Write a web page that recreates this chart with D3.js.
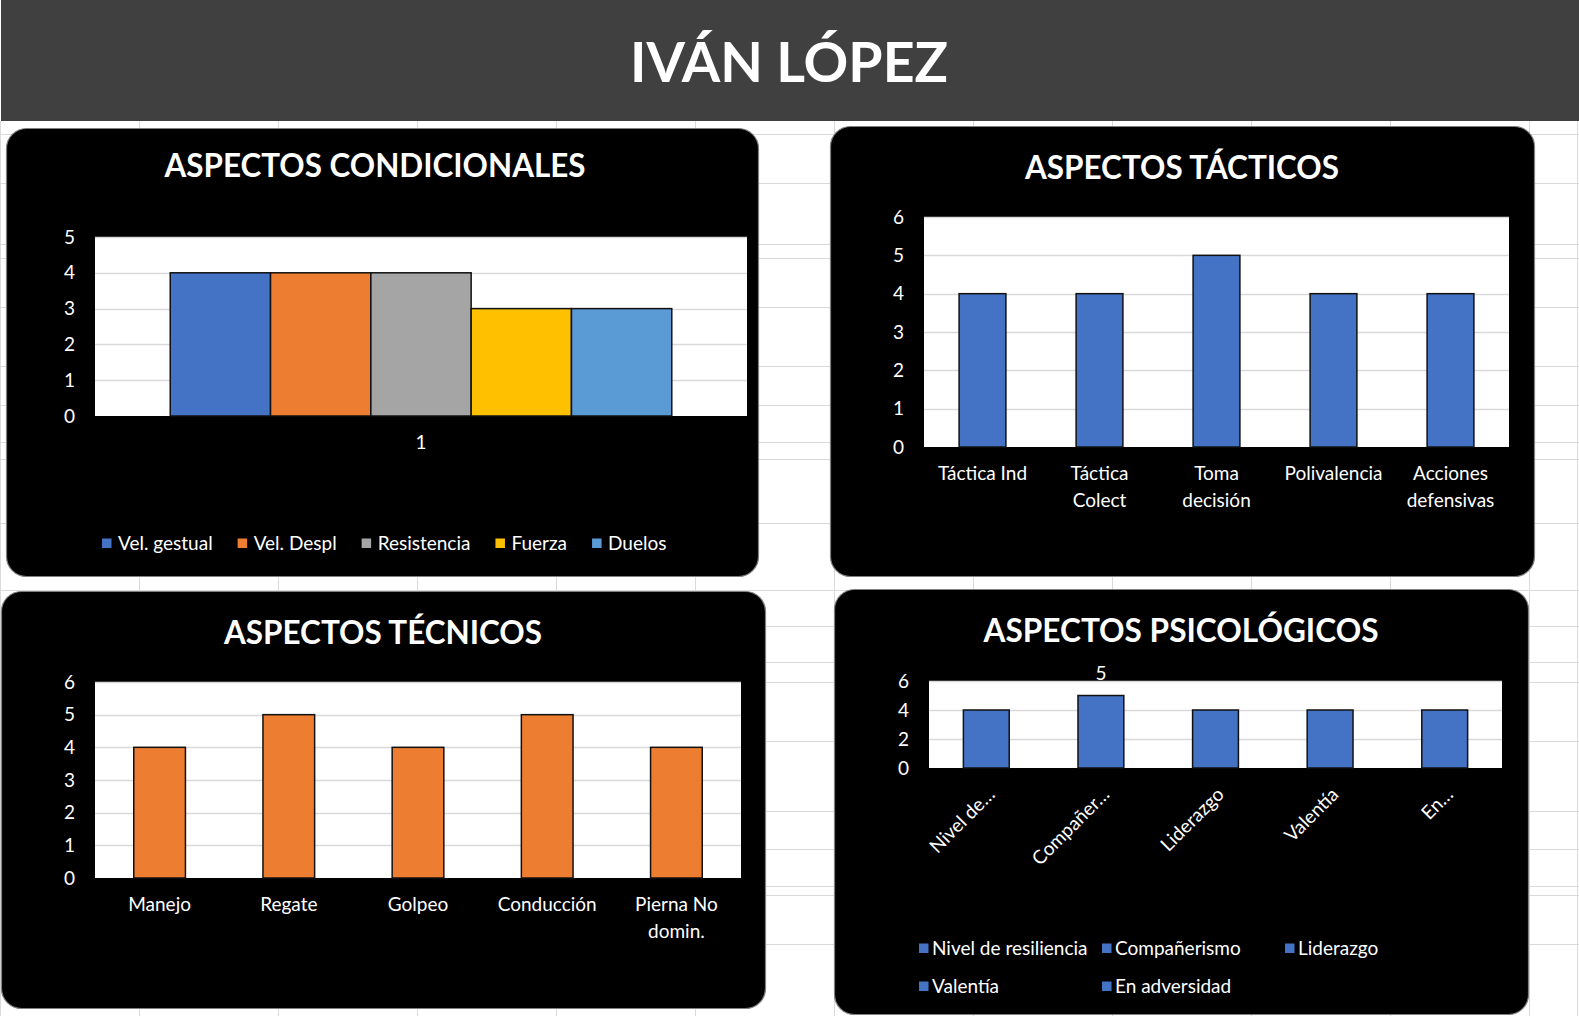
<!DOCTYPE html>
<html><head><meta charset="utf-8">
<script src="https://cdn.jsdelivr.net/npm/d3@7"></script>
<style>
html,body{margin:0;padding:0;background:#fff;overflow:hidden}
svg{display:block}
</style></head><body>
<svg id="c" width="1579" height="1016"></svg>
<script>
// ---------- DATA ----------
const playerName = "IVÁN LÓPEZ";

const condTitle = "ASPECTOS CONDICIONALES";
const condCategories = ["1"];
const condSeries = ["Vel. gestual", "Vel. Despl", "Resistencia", "Fuerza", "Duelos"];
const condValues = [4, 4, 4, 3, 3];
const condColors = ["#4472C4", "#ED7D31", "#A5A5A5", "#FFC000", "#5B9BD5"];
const condTicks = [0, 1, 2, 3, 4, 5];

const tactTitle = "ASPECTOS TÁCTICOS";
const tactCategories = ["Táctica Ind", "Táctica Colect", "Toma decisión", "Polivalencia", "Acciones defensivas"];
const tactValues = [4, 4, 5, 4, 4];
const tactTicks = [0, 1, 2, 3, 4, 5, 6];

const tecTitle = "ASPECTOS TÉCNICOS";
const tecCategories = ["Manejo", "Regate", "Golpeo", "Conducción", "Pierna No domin."];
const tecValues = [4, 5, 4, 5, 4];
const tecTicks = [0, 1, 2, 3, 4, 5, 6];

const psiTitle = "ASPECTOS PSICOLÓGICOS";
const psiCategories = ["Nivel de resiliencia", "Compañerismo", "Liderazgo", "Valentía", "En adversidad"];
const psiTickLabels = ["Nivel de…", "Compañer…", "Liderazgo", "Valentía", "En…"];
const psiValues = [4, 5, 4, 4, 4];
const psiTicks = [0, 2, 4, 6];
const psiLabelled = ["Compañerismo"];

// ---------- STYLE / LAYOUT ----------
const FONT = "Lato, 'Open Sans', sans-serif";
const LBL = 19;
const BLUE = "#4472C4", ORANGE = "#ED7D31";
const BAR_STROKE = "#111";
const sheetCols = [0.5, 139.5, 278.5, 417.5, 556.5, 695.5, 834.5, 973.5, 1112.5, 1251.5, 1390.5, 1529.5, 1577.5];
const sheetRows = [134.5, 183.5, 244.5, 258.5, 307.5, 366.5, 405.5, 442.5, 459.5, 523.5, 590.5, 626.5, 662.5, 682.5, 741.5, 811.5, 849.5, 886.5, 895.5, 944.5];

const svg = d3.select("#c");

// sheet background
svg.append("rect").attr("width", 1579).attr("height", 1016).attr("fill", "#fff");
const sg = svg.append("g").attr("stroke", "#dadada").attr("stroke-width", 1);
sg.selectAll("line.v").data(sheetCols).join("line").attr("class", "v")
  .attr("x1", d => d).attr("x2", d => d).attr("y1", 121).attr("y2", 1016);
sg.selectAll("line.h").data(sheetRows).join("line").attr("class", "h")
  .attr("x1", 0).attr("x2", 1579).attr("y1", d => d).attr("y2", d => d);

// header
svg.append("rect").attr("x", 1).attr("y", 0).attr("width", 1578).attr("height", 121).attr("fill", "#404040");
svg.append("text").attr("x", 789).attr("y", 82).attr("text-anchor", "middle")
  .attr("font-family", FONT).attr("font-weight", 700).attr("font-size", 56)
  .attr("textLength", 318).attr("lengthAdjust", "spacingAndGlyphs")
  .attr("fill", "#fff").text(playerName);

function panel(p, title) {
  const g = svg.append("g");
  g.append("rect").attr("x", p.x + 0.5).attr("y", p.y + 0.5).attr("width", p.w).attr("height", p.h)
    .attr("rx", 20).attr("ry", 20).attr("fill", "#000").attr("stroke", "#808080").attr("stroke-width", 1.2);
  g.append("text").attr("x", p.title.cx).attr("y", p.title.base).attr("text-anchor", "middle")
    .attr("font-family", FONT).attr("font-weight", 700).attr("font-size", p.title.size)
    .attr("textLength", p.title.len).attr("lengthAdjust", "spacingAndGlyphs")
    .attr("fill", "#fff").text(title);
  return g;
}

function frame(g, p, ticks) {
  const y = d3.scaleLinear().domain([0, d3.max(ticks)]).range([p.b, p.t]);
  g.append("rect").attr("x", p.l).attr("y", p.t).attr("width", p.r - p.l).attr("height", p.b - p.t).attr("fill", "#fff");
  g.append("g").selectAll("line").data(ticks.filter(t => t > 0)).join("line")
    .attr("x1", p.l).attr("x2", p.r)
    .attr("y1", d => Math.round(y(d)) + 0.5).attr("y2", d => Math.round(y(d)) + 0.5)
    .attr("stroke", "#d9d9d9").attr("stroke-width", 1.5);
  const ya = g.append("g").attr("transform", `translate(${p.l},0)`)
    .call(d3.axisLeft(y).tickValues(ticks).tickSize(0).tickPadding(20).tickFormat(d3.format("d")));
  ya.select(".domain").remove();
  ya.attr("font-family", FONT).attr("font-size", LBL);
  ya.selectAll("text").attr("fill", "#fff");
  return y;
}

function wrap(sel, maxW, lineH) {
  sel.each(function () {
    const t = d3.select(this);
    const words = t.text().split(/\s+/);
    t.text(null);
    const lines = [];
    let cur = [];
    const probe = t.append("tspan");
    words.forEach(w => {
      const test = cur.concat([w]).join(" ");
      probe.text(test);
      if (probe.node().getComputedTextLength() > maxW && cur.length) {
        lines.push(cur.join(" "));
        cur = [w];
      } else cur.push(w);
    });
    lines.push(cur.join(" "));
    probe.remove();
    lines.forEach((ln, i) => t.append("tspan").attr("x", 0).attr("dy", i === 0 ? "0.71em" : lineH).text(ln));
  });
}

function columnChart(g, p, cats, vals, ticks, color) {
  const y = frame(g, p, ticks);
  const x = d3.scaleBand().domain(cats).range([p.l, p.r]).paddingInner(0.6).paddingOuter(0.3);
  g.append("g").selectAll("rect").data(cats).join("rect")
    .attr("x", d => x(d)).attr("width", x.bandwidth())
    .attr("y", (d, i) => y(vals[i])).attr("height", (d, i) => y(0) - y(vals[i]))
    .attr("fill", color).attr("stroke", BAR_STROKE).attr("stroke-width", 1.5);
  return { x, y };
}

// ---------- PANEL 1: CONDICIONALES ----------
{
  const p = { x: 6, y: 128, w: 752, h: 448, title: { cx: 375, base: 177, size: 32, len: 421 } };
  const pl = { l: 95, r: 747, t: 237, b: 416 };
  const g = panel(p, condTitle);
  const y = frame(g, pl, condTicks);
  const x0 = d3.scaleBand().domain(condCategories).range([pl.l, pl.r]).padding(0);
  const bw = x0.bandwidth() / (condSeries.length + 1.5);
  const x1 = d3.scaleBand().domain(condSeries).range([bw * 0.75, x0.bandwidth() - bw * 0.75]).padding(0);
  const cg = g.append("g").selectAll("g").data(condCategories).join("g").attr("transform", d => `translate(${x0(d)},0)`);
  cg.selectAll("rect").data(condSeries).join("rect")
    .attr("x", d => x1(d)).attr("width", x1.bandwidth())
    .attr("y", (d, i) => y(condValues[i])).attr("height", (d, i) => y(0) - y(condValues[i]))
    .attr("fill", (d, i) => condColors[i]).attr("stroke", BAR_STROKE).attr("stroke-width", 1.5);
  const xa = g.append("g").attr("transform", `translate(0,${pl.b})`)
    .call(d3.axisBottom(x0).tickSize(0).tickPadding(20));
  xa.select(".domain").remove();
  xa.attr("font-family", FONT).attr("font-size", LBL);
  xa.selectAll("text").attr("fill", "#fff");

  // legend
  const lg = g.append("g").attr("font-family", FONT).attr("font-size", LBL);
  let cx = 102;
  const ly = 543;
  condSeries.forEach((s, i) => {
    lg.append("rect").attr("x", cx).attr("y", ly - 4.5).attr("width", 9.5).attr("height", 9.5).attr("fill", condColors[i]);
    const t = lg.append("text").attr("x", cx + 16).attr("y", ly).attr("dy", "0.35em").attr("fill", "#fff").text(s);
    cx = cx + 16 + t.node().getComputedTextLength() + 25;
  });
}

// ---------- PANEL 2: TÁCTICOS ----------
{
  const p = { x: 830, y: 126, w: 704, h: 450, title: { cx: 1182, base: 179, size: 32, len: 314 } };
  const pl = { l: 924, r: 1509, t: 217, b: 447 };
  const g = panel(p, tactTitle);
  const { x } = columnChart(g, pl, tactCategories, tactValues, tactTicks, BLUE);
  const xa = g.append("g").attr("transform", `translate(0,${pl.b})`)
    .call(d3.axisBottom(x).tickSize(0).tickPadding(20));
  xa.select(".domain").remove();
  xa.attr("font-family", FONT).attr("font-size", LBL);
  xa.selectAll("text").attr("fill", "#fff").call(wrap, x.step() * 0.9, "1.37em");
}

// ---------- PANEL 3: TÉCNICOS ----------
{
  const p = { x: 1, y: 591, w: 764, h: 417, title: { cx: 383, base: 644, size: 32, len: 318 } };
  const pl = { l: 95, r: 741, t: 682, b: 878 };
  const g = panel(p, tecTitle);
  const { x } = columnChart(g, pl, tecCategories, tecValues, tecTicks, ORANGE);
  const xa = g.append("g").attr("transform", `translate(0,${pl.b})`)
    .call(d3.axisBottom(x).tickSize(0).tickPadding(20));
  xa.select(".domain").remove();
  xa.attr("font-family", FONT).attr("font-size", LBL);
  xa.selectAll("text").attr("fill", "#fff").call(wrap, x.step() * 0.9, "1.37em");
}

// ---------- PANEL 4: PSICOLÓGICOS ----------
{
  const p = { x: 834, y: 589, w: 694, h: 425, title: { cx: 1181, base: 642, size: 32, len: 395 } };
  const pl = { l: 929, r: 1502, t: 681, b: 768 };
  const g = panel(p, psiTitle);
  const { x, y } = columnChart(g, pl, psiCategories, psiValues, psiTicks, BLUE);
  // data label
  g.append("g").selectAll("text").data(psiCategories.filter(c => psiLabelled.includes(c))).join("text")
    .attr("x", d => x(d) + x.bandwidth() / 2)
    .attr("y", d => y(psiValues[psiCategories.indexOf(d)]) - 16)
    .attr("text-anchor", "middle").attr("font-family", FONT).attr("font-size", LBL)
    .attr("fill", "#fff").text(d => psiValues[psiCategories.indexOf(d)]);
  const xa = g.append("g").attr("transform", `translate(0,${pl.b})`)
    .call(d3.axisBottom(x).tickSize(0).tickFormat((d, i) => psiTickLabels[i]));
  xa.select(".domain").remove();
  xa.attr("font-family", FONT).attr("font-size", LBL);
  xa.selectAll("text").attr("fill", "#fff").attr("y", 0).attr("dy", "0.35em")
    .attr("text-anchor", "end").attr("transform", "translate(5,23) rotate(-45)");

  // legend (grid of 3 columns)
  const lg = g.append("g").attr("font-family", FONT).attr("font-size", LBL);
  psiCategories.forEach((s, i) => {
    const col = i % 3, row = Math.floor(i / 3);
    const lx = 919 + col * 183, ly = 948 + row * 38;
    lg.append("rect").attr("x", lx).attr("y", ly - 4.5).attr("width", 9.5).attr("height", 9.5).attr("fill", BLUE);
    lg.append("text").attr("x", lx + 13).attr("y", ly).attr("dy", "0.35em").attr("fill", "#fff").text(s);
  });
}
</script>
</body></html>
